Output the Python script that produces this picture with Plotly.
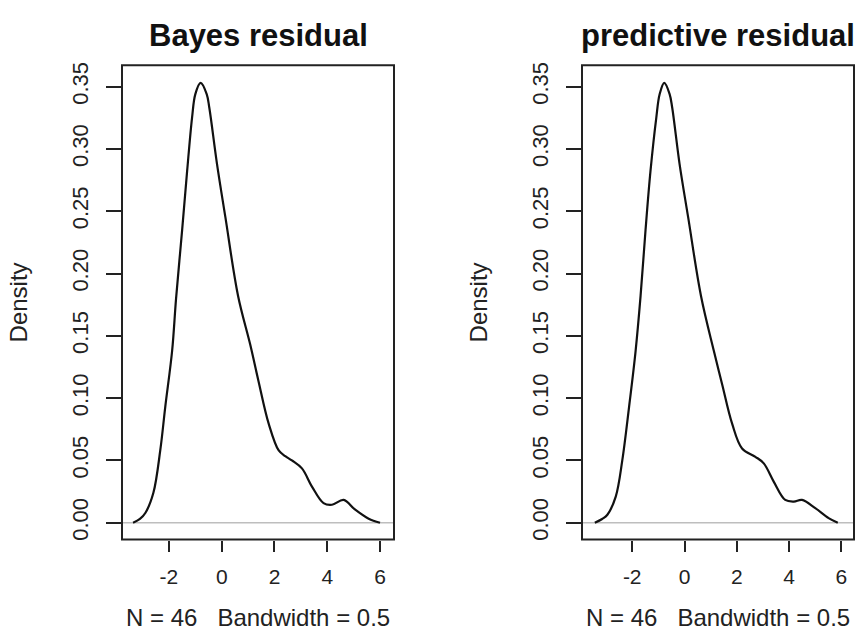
import plotly.graph_objects as go

# ---- data ----
titles = ["Bayes residual", "predictive residual"]
bayes_x = [-3.36, -3.10, -2.89, -2.59, -2.33, -2.14, -1.88, -1.73, -1.50, -1.31, -1.125, -1.00,
           -0.80, -0.57, -0.47, -0.18, 0.14, 0.62, 1.08, 1.39, 1.78, 2.16, 2.41, 2.66, 3.04,
           3.42, 3.86, 4.18, 4.62, 5.06, 5.57, 6.00]
bayes_y = [0.000, 0.003, 0.008, 0.024, 0.058, 0.093, 0.138, 0.180, 0.235, 0.2825, 0.325, 0.344,
           0.353, 0.344, 0.333, 0.288, 0.245, 0.182, 0.143, 0.114, 0.0795, 0.058, 0.0534, 0.050, 0.0436,
           0.029, 0.0157, 0.0144, 0.0183, 0.0104, 0.0032, 0.000]
pred_x = [-3.43, -3.15, -2.95, -2.63, -2.38, -2.12, -1.87, -1.68, -1.49, -1.30, -1.08, -0.95,
          -0.775, -0.57, -0.47, -0.19, 0.14, 0.63, 1.12, 1.44, 1.82, 2.20, 2.71, 3.03,
          3.41, 3.85, 4.18, 4.49, 5.00, 5.51, 5.86]
pred_y = [0.000, 0.003, 0.0064, 0.021, 0.050, 0.093, 0.138, 0.182, 0.235, 0.2825, 0.325, 0.344,
          0.353, 0.344, 0.333, 0.288, 0.245, 0.182, 0.138, 0.111, 0.0795, 0.0596, 0.0529, 0.0476,
          0.033, 0.0183, 0.017, 0.0183, 0.0117, 0.0037, 0.000]
x_ticks = [-2, 0, 2, 4, 6]
y_ticks = [0.00, 0.05, 0.10, 0.15, 0.20, 0.25, 0.30, 0.35]
y_label = "Density"
x_label = "N = 46   Bandwidth = 0.5"

W, H = 865, 636
FONT = "Liberation Sans, Arial, sans-serif"

fig = go.Figure()
for xs, ys, xa, ya in [(bayes_x, bayes_y, "x", "y"), (pred_x, pred_y, "x2", "y2")]:
    fig.add_trace(go.Scatter(x=xs, y=ys, mode="lines", xaxis=xa, yaxis=ya,
                             line=dict(color="#111111", width=2.2, shape="spline", smoothing=1.0),
                             showlegend=False, hoverinfo="skip"))

left = [122 / W, 394 / W]
right = [582 / W, 854 / W]
ydom = [1 - 540 / H, 1 - 62.7 / H]

xcommon = dict(tickmode="array", tickvals=x_ticks, ticktext=[str(v) for v in x_ticks],
               ticks="outside", ticklen=11, tickwidth=1.5, tickcolor="#222",
               showgrid=False, zeroline=False, showline=False,
               tickfont=dict(family=FONT, size=21, color="#222"), ticklabelstandoff=7)
ycommon = dict(tickmode="array", tickvals=y_ticks, ticktext=[f"{v:.2f}" for v in y_ticks],
               ticks="outside", ticklen=15, tickwidth=1.5, tickcolor="#222",
               showgrid=False, zeroline=False, showline=False, tickangle=-90,
               tickfont=dict(family=FONT, size=22, color="#222"), ticklabelstandoff=9,
               range=[-0.01356, 0.3671])

fig.update_layout(
    width=W, height=H, margin=dict(l=0, r=0, t=0, b=0),
    paper_bgcolor="white", plot_bgcolor="white",
    xaxis=dict(domain=left, anchor="y", range=[-3.78, 6.53], **xcommon),
    yaxis=dict(domain=ydom, anchor="x", **ycommon),
    xaxis2=dict(domain=right, anchor="y2", range=[-3.92, 6.48], **xcommon),
    yaxis2=dict(domain=ydom, anchor="x2", **ycommon),
)

shapes = []
annotations = []
for xr, yr, dom, t in [("x", "y", left, titles[0]), ("x2", "y2", right, titles[1])]:
    shapes.append(dict(type="line", xref=f"{xr} domain", yref=yr, x0=0, x1=1, y0=0, y1=0,
                       line=dict(color="#bebebe", width=1.5), layer="below"))
    shapes.append(dict(type="rect", xref=f"{xr} domain", yref=f"{yr} domain", x0=0, x1=1, y0=0, y1=1,
                       line=dict(color="#222", width=2)))
    cx = (dom[0] + dom[1]) / 2
    annotations.append(dict(text=f"<b>{t}</b>", x=cx, y=1 - 33 / H, xref="paper", yref="paper",
                            xanchor="center", yanchor="middle", showarrow=False,
                            font=dict(family=FONT, size=31, color="#111")))
    annotations.append(dict(text=x_label, x=cx, y=1 - 618 / H, xref="paper", yref="paper",
                            xanchor="center", yanchor="middle", showarrow=False,
                            font=dict(family=FONT, size=24, color="#222")))
    annotations.append(dict(text=y_label, x=(dom[0] * W - 104) / W, y=(ydom[0] + ydom[1]) / 2,
                            xref="paper", yref="paper", xanchor="center", yanchor="middle",
                            textangle=-90, showarrow=False,
                            font=dict(family=FONT, size=24, color="#222")))

fig.update_layout(shapes=shapes, annotations=annotations)
fig.write_html("out.html")
